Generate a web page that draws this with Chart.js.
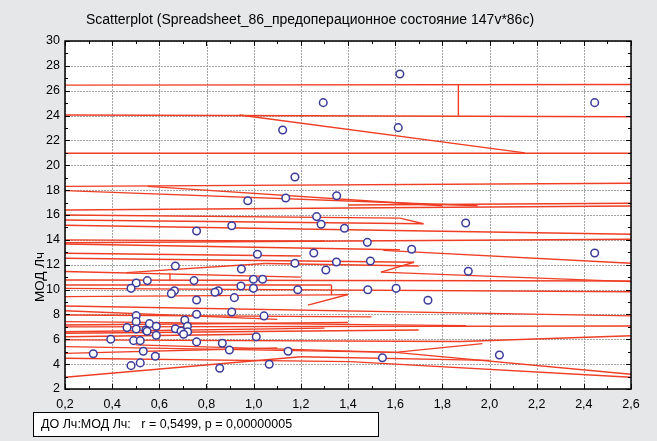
<!DOCTYPE html>
<html>
<head>
<meta charset="utf-8">
<script src="https://cdn.jsdelivr.net/npm/chart.js@4"></script>
<style>
  html, body { margin: 0; padding: 0; background: #e6e7e9; }
  #wrap { width: 657px; height: 441px; position: relative; }
</style>
</head>
<body>
<div id="wrap"><canvas id="chart" width="657" height="441"></canvas></div>
<script>
// scatter data: ДО Лч (x) vs МОД Лч (y)
const doValues = [
  1.62, 2.446, 1.295, 1.123, 1.613, 1.175, 0.975, 1.136, 1.352,
  1.267, 1.286, 1.385, 0.907, 0.758, 1.016, 1.255, 1.351, 1.175, 1.306, 0.668,
  0.948, 0.999, 1.038, 0.549, 0.747, 0.502, 0.48, 0.946, 0.999, 1.187, 0.85,
  0.836, 0.664, 0.651, 0.918, 0.758, 0.907, 0.758, 1.044, 0.502, 0.502, 0.708,
  0.558, 0.719, 0.587, 0.463, 0.502, 0.543, 0.548, 0.668, 0.692, 0.72, 0.703,
  0.587, 0.394, 0.491, 0.519, 1.011, 0.758, 0.867, 0.897, 0.532, 1.146, 0.32,
  0.583, 0.48, 0.519, 1.066, 0.856,
  1.899, 1.482, 1.67, 2.446, 1.495, 1.91, 1.484, 1.604, 1.739, 1.546, 2.042
];
const modValues = [
  27.35, 25.04, 25.04, 22.84, 23.03, 19.06, 17.15, 17.37, 17.55,
  15.87, 15.25, 14.93, 15.14, 14.71, 12.84, 12.94, 12.22, 12.12, 11.58, 11.9,
  11.65, 10.83, 10.83, 10.72, 10.72, 10.53, 10.1, 10.29, 10.1, 9.99, 9.91,
  9.78, 9.91, 9.67, 9.35, 9.16, 8.2, 8.01, 7.88, 7.9, 7.42, 7.55,
  7.26, 7.05, 7.05, 6.94, 6.83, 6.75, 6.65, 6.85, 6.67, 6.61, 6.4,
  6.32, 6.0, 5.89, 5.89, 6.21, 5.79, 5.68, 5.14, 5.04, 5.04, 4.84,
  4.63, 3.88, 4.1, 3.99, 3.67,
  15.36, 13.8, 13.24, 12.94, 12.3, 11.47, 9.99, 10.1, 9.14, 4.52, 4.74
];

// red line segments [x1, y1, x2, y2]
const redSegments = [
  [0.2, 26.45, 2.6, 26.5],
  [1.868, 26.48, 1.868, 24.0],
  [0.2, 24.05, 2.6, 23.9],
  [0.94, 24.05, 2.15, 21.0],
  [0.2, 20.97, 2.6, 20.97],
  [0.2, 18.3, 2.6, 18.55],
  [0.2, 17.96, 1.95, 16.75],
  [0.55, 18.3, 1.8, 16.75],
  [1.4, 16.8, 2.6, 16.94],
  [0.2, 16.4, 2.6, 16.73],
  [0.2, 16.0, 1.62, 15.75],
  [1.62, 15.75, 1.72, 15.3],
  [0.2, 15.6, 1.72, 15.3],
  [0.2, 15.17, 2.6, 14.45],
  [0.2, 13.77, 2.6, 14.05],
  [0.2, 14.0, 1.3, 13.9],
  [0.2, 13.67, 1.62, 13.2],
  [1.55, 13.15, 2.6, 12.12],
  [0.2, 12.92, 1.2, 12.7],
  [0.2, 12.52, 1.68, 12.2],
  [1.68, 12.2, 1.54, 11.4],
  [1.54, 11.4, 2.6, 10.64],
  [0.46, 11.36, 1.05, 12.1],
  [1.05, 12.1, 1.7, 11.9],
  [0.2, 11.45, 1.2, 11.0],
  [0.645, 11.3, 0.645, 10.75],
  [0.2, 10.77, 2.6, 10.69],
  [0.2, 10.37, 1.33, 10.37],
  [1.33, 10.37, 1.33, 9.57],
  [1.33, 9.57, 1.4, 9.6],
  [1.4, 9.6, 1.23, 8.75],
  [0.2, 10.1, 2.6, 9.83],
  [0.2, 9.43, 1.33, 9.57],
  [0.2, 8.68, 2.6, 7.88],
  [0.2, 7.96, 1.5, 7.8],
  [0.2, 8.3, 1.1, 7.6],
  [0.2, 7.42, 1.9, 7.1],
  [0.2, 7.15, 1.4, 7.35],
  [0.2, 7.0, 2.6, 7.07],
  [0.2, 6.61, 1.3, 6.9],
  [0.2, 6.49, 1.7, 6.75],
  [0.2, 6.2, 1.0, 6.4],
  [0.2, 5.95, 1.88, 5.82],
  [1.88, 5.82, 2.6, 6.29],
  [0.2, 5.41, 1.6, 4.95],
  [0.5, 5.55, 1.6, 4.95],
  [1.6, 4.95, 1.97, 5.65],
  [1.6, 4.95, 2.6, 3.19],
  [0.2, 4.87, 1.1, 5.3],
  [0.2, 4.47, 1.41, 4.2],
  [1.41, 4.2, 2.6, 2.95],
  [0.2, 2.95, 1.2, 4.6],
  [1.2, 4.6, 2.0, 4.3]
];

const xTicks = [0.2, 0.4, 0.6, 0.8, 1.0, 1.2, 1.4, 1.6, 1.8, 2.0, 2.2, 2.4, 2.6];
const yTicks = [2, 4, 6, 8, 10, 12, 14, 16, 18, 20, 22, 24, 26, 28, 30];

const chartTitle = "Scatterplot (Spreadsheet_86_предоперационное состояние 147v*86c)";
const yTitle = "МОД Лч";
const statText = "ДО Лч:МОД Лч:   r = 0,5499, p = 0,00000005";

const FONT = "'Liberation Sans', Arial, sans-serif";

const points = doValues.map((x, i) => ({ x: x, y: modValues[i] }));

const datasets = [
  {
    type: "scatter",
    data: points,
    pointStyle: "circle",
    pointRadius: 3.8,
    borderColor: "#3b3b9c",
    backgroundColor: "#ffffff",
    borderWidth: 1.5,
  },
];
redSegments.forEach((s) => {
  datasets.push({
    type: "line",
    data: [{ x: s[0], y: s[1] }, { x: s[2], y: s[3] }],
    borderColor: "#ef3e24",
    borderWidth: 1.4,
    pointRadius: 0,
    fill: false,
    tension: 0,
  });
});

// dotted grid, drawn as small squares
function drawGrid(chart) {
  const { ctx, chartArea: a, scales } = chart;
  ctx.save();
  ctx.fillStyle = "#a4a4a4";
  xTicks.forEach((v) => {
    const px = Math.round(scales.x.getPixelForValue(v));
    for (let y = Math.ceil(a.top); y < a.bottom; y += 3) ctx.fillRect(px, y, 1, 2);
  });
  yTicks.forEach((v) => {
    const py = Math.round(scales.y.getPixelForValue(v));
    for (let x = Math.ceil(a.left); x < a.right; x += 3) ctx.fillRect(x, py, 2, 1);
  });
  ctx.restore();
}

const decorPlugin = {
  id: "decor",
  beforeDraw(chart) {
    const { ctx, chartArea: a } = chart;
    ctx.save();
    ctx.fillStyle = "#e6e7e9";
    ctx.fillRect(0, 0, chart.width, chart.height);
    ctx.fillStyle = "#ffffff";
    ctx.fillRect(a.left, a.top, a.right - a.left, a.bottom - a.top);
    ctx.restore();
  },
  beforeDatasetsDraw(chart) {
    drawGrid(chart);
  },
  afterDraw(chart) {
    const { ctx, chartArea: a, scales } = chart;
    const xs = scales.x, ys = scales.y;
    ctx.save();
    ctx.strokeStyle = "#000";
    ctx.lineWidth = 1;
    ctx.beginPath();
    for (let v = 0.2; v <= 2.6001; v += 0.1) {
      const px = Math.round(xs.getPixelForValue(v)) + 0.5;
      const major = Math.abs(Math.round(v * 10) % 2) === 0;
      const len = major ? 5 : 3;
      ctx.moveTo(px, a.bottom); ctx.lineTo(px, a.bottom - len);
      ctx.moveTo(px, a.top); ctx.lineTo(px, a.top + len);
    }
    for (let v = 2; v <= 30; v += 1) {
      const py = Math.round(ys.getPixelForValue(v)) + 0.5;
      const len = v % 2 === 0 ? 5 : 3;
      ctx.moveTo(a.left, py); ctx.lineTo(a.left + len, py);
      ctx.moveTo(a.right, py); ctx.lineTo(a.right - len, py);
    }
    ctx.stroke();
    ctx.lineWidth = 1.5;
    ctx.strokeRect(a.left, a.top, a.right - a.left, a.bottom - a.top);

    ctx.fillStyle = "#000";
    ctx.font = "14px " + FONT;
    ctx.textAlign = "center";
    ctx.textBaseline = "middle";
    ctx.fillText(chartTitle, 310, 20);

    ctx.save();
    ctx.translate(40, 277);
    ctx.rotate(-Math.PI / 2);
    ctx.font = "13.5px " + FONT;
    ctx.fillText(yTitle, 0, 0);
    ctx.restore();

    ctx.lineWidth = 1;
    ctx.fillStyle = "#ffffff";
    ctx.fillRect(33.5, 412.5, 345, 24);
    ctx.strokeRect(33.5, 412.5, 345, 24);
    ctx.fillStyle = "#000";
    ctx.textAlign = "left";
    ctx.font = "12.5px " + FONT;
    ctx.fillText(statText, 41, 425);
    ctx.restore();
  },
};

new Chart(document.getElementById("chart"), {
  data: { datasets },
  options: {
    responsive: false,
    animation: false,
    layout: { padding: { left: 0, right: 26, top: 41, bottom: 0 } },
    plugins: {
      legend: { display: false },
      tooltip: { enabled: false },
      title: { display: false },
    },
    scales: {
      x: {
        type: "linear",
        min: 0.2,
        max: 2.6,
        afterBuildTicks: (s) => { s.ticks = xTicks.map((v) => ({ value: v })); },
        afterFit: (s) => { s.height = 52; },
        grid: { display: false, drawTicks: false },
        border: { display: false },
        ticks: {
          color: "#000",
          font: { family: FONT, size: 12.5 },
          padding: 8,
          maxRotation: 0,
          callback: (v) => Number(v).toFixed(1).replace(".", ","),
        },
      },
      y: {
        type: "linear",
        min: 2,
        max: 30,
        afterBuildTicks: (s) => { s.ticks = yTicks.map((v) => ({ value: v })); },
        afterFit: (s) => { s.width = 65; },
        grid: { display: false, drawTicks: false },
        border: { display: false },
        ticks: {
          color: "#000",
          font: { family: FONT, size: 12.5 },
          padding: 5,
          callback: (v) => String(v),
        },
      },
    },
  },
  plugins: [decorPlugin],
});
</script>
</body>
</html>
